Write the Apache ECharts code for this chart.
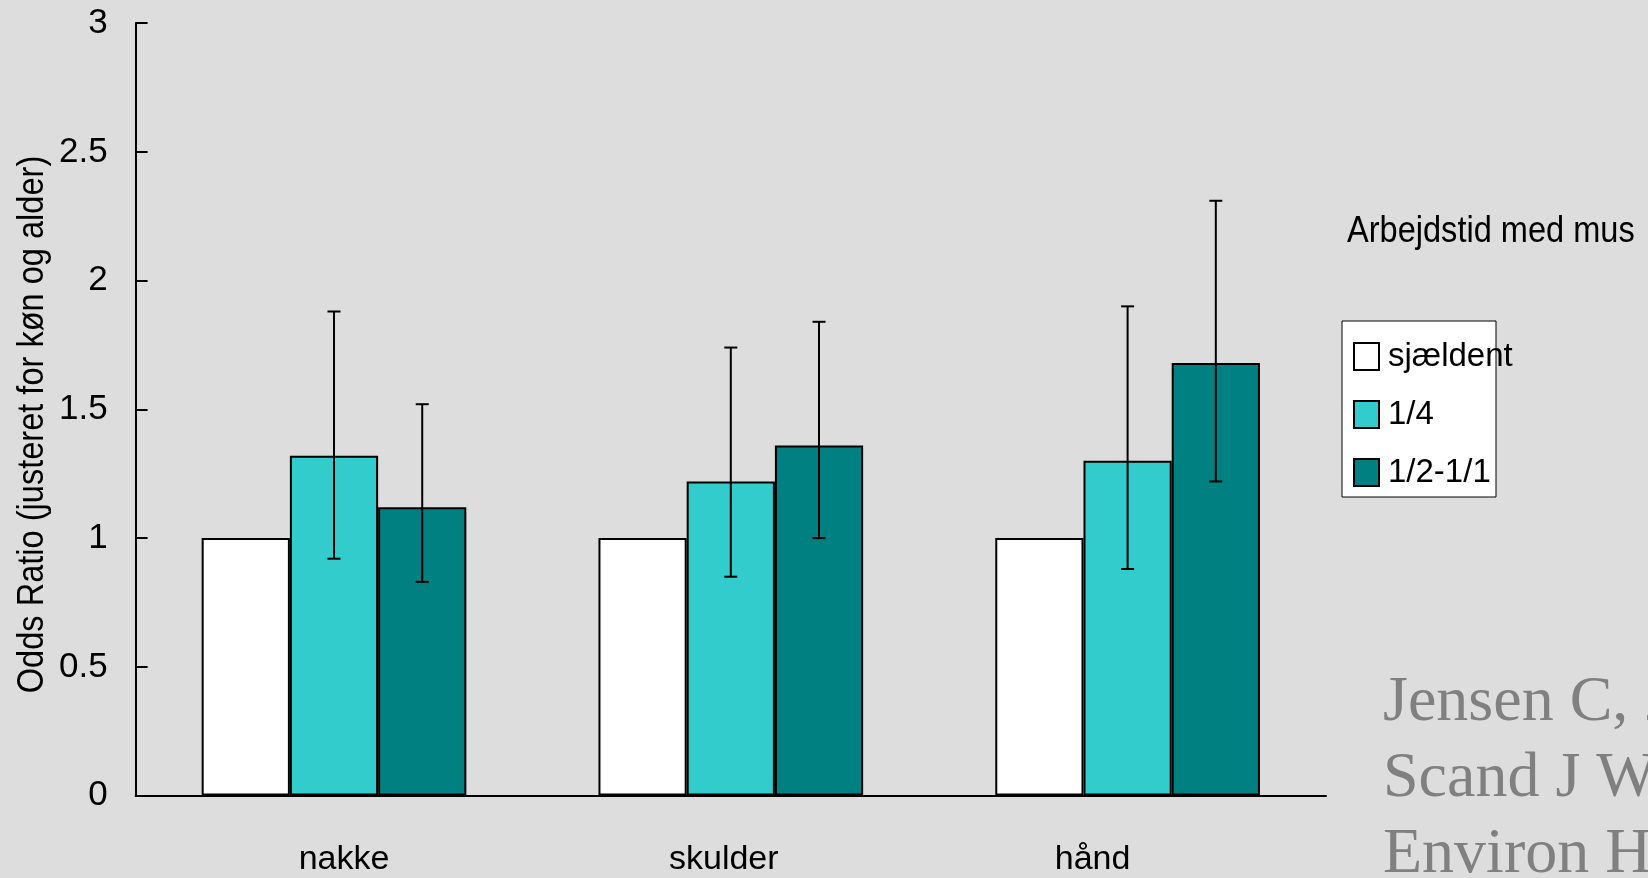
<!DOCTYPE html>
<html>
<head>
<meta charset="utf-8">
<script src="https://cdn.jsdelivr.net/npm/echarts@6/dist/echarts.min.js"></script>
<style>
html,body{margin:0;padding:0;background:#dddddd;}
#c{width:1648px;height:878px;}
</style>
</head>
<body>
<div id="c"></div>
<script>
var categories = ['nakke', 'skulder', 'hånd'];
var seriesNames = ['sjældent', '1/4', '1/2-1/1'];
var valSjaeldent = [1.0, 1.0, 1.0];
var valKvart = [1.32, 1.22, 1.30];
var valHalv = [1.12, 1.36, 1.68];
var ciKvartLow = [0.92, 0.85, 0.88];
var ciKvartHigh = [1.88, 1.74, 1.90];
var ciHalvLow = [0.83, 1.00, 1.22];
var ciHalvHigh = [1.52, 1.84, 2.31];
var yTicks = [0, 0.5, 1, 1.5, 2, 2.5, 3];
var yAxisTitle = 'Odds Ratio (justeret for køn og alder)';
var legendTitle = 'Arbejdstid med mus';
var citationLines = ['Jensen C, 2003', 'Scand J Work', 'Environ Health'];

var FONT = '"Liberation Sans", Arial, sans-serif';
var SERIF = '"Liberation Serif", "Times New Roman", serif';
var colors = ['#ffffff', '#33cccc', '#008080'];
var CAT_GAP = 0.333;
// horizontal shift of each category label (the original labels are not centred on the groups)
var labelPads = [[0, 0, 0, 20], [0, 14, 0, 0], [0, 70, 0, 0]];

function errData(low, high) {
  return categories.map(function (c, i) { return [i, low[i], high[i]]; });
}

function makeErr(seriesPos, low, high) {
  return {
    type: 'custom',
    z: 5,
    silent: true,
    data: errData(low, high),
    encode: { x: 0, y: [1, 2] },
    renderItem: function (params, api) {
      var ci = api.value(0);
      var lo = api.coord([ci, api.value(1)]);
      var hi = api.coord([ci, api.value(2)]);
      var band = api.size([1, 0])[0];
      var bw = band * (1 - CAT_GAP) / 3;
      var x = lo[0] + (seriesPos - 1) * bw;
      var cap = 6.5;
      var st = { stroke: '#000', lineWidth: 2 };
      return {
        type: 'group',
        children: [
          { type: 'line', shape: { x1: x, y1: hi[1], x2: x, y2: lo[1] }, style: st },
          { type: 'line', shape: { x1: x - cap, y1: hi[1], x2: x + cap, y2: hi[1] }, style: st },
          { type: 'line', shape: { x1: x - cap, y1: lo[1], x2: x + cap, y2: lo[1] }, style: st }
        ]
      };
    }
  };
}

var chart = echarts.init(document.getElementById('c'), null, { renderer: 'canvas' });
var option = {
  backgroundColor: '#dddddd',
  animation: false,
  textStyle: { fontFamily: FONT },
  grid: { left: 135.6, right: 322, top: 23.1, bottom: 82.4, containLabel: false },
  xAxis: {
    type: 'category',
    data: categories.map(function (c, i) {
      return { value: c, textStyle: { padding: labelPads[i] } };
    }),
    axisLine: { lineStyle: { color: '#000', width: 2 } },
    axisTick: { show: false },
    axisLabel: { color: '#000', fontSize: 34, fontFamily: FONT, margin: 47 },
    splitLine: { show: false }
  },
  yAxis: {
    type: 'value',
    min: yTicks[0],
    max: yTicks[yTicks.length - 1],
    interval: yTicks[1] - yTicks[0],
    axisLine: { show: true, lineStyle: { color: '#000', width: 2 } },
    axisTick: { show: true, inside: true, length: 12, lineStyle: { color: '#000', width: 2 } },
    axisLabel: { color: '#000', fontSize: 35, fontFamily: FONT, margin: 28 },
    splitLine: { show: false }
  },
  legend: {
    orient: 'vertical',
    left: 1353,
    top: 340,
    padding: 0,
    itemWidth: 25,
    itemHeight: 27,
    itemGap: 25,
    icon: 'rect',
    data: seriesNames,
    textStyle: { color: '#000', fontSize: 33, lineHeight: 27, fontFamily: FONT, padding: [0, 0, 0, 4] },
    z: 10
  },
  graphic: [
    { type: 'rect', z: 1, shape: { x: 1342, y: 321, width: 154, height: 176 },
      style: { fill: '#fff', stroke: '#000', lineWidth: 1 } },
    { type: 'text', z: 2, x: 1347, y: 232, scaleX: 0.88,
      style: { text: legendTitle, font: '37px ' + FONT, fill: '#000', verticalAlign: 'middle', textVerticalAlign: 'middle' } },
    { type: 'text', z: 2, x: 33, y: 424.5, rotation: Math.PI / 2, scaleX: 0.88,
      style: { text: yAxisTitle, font: '37px ' + FONT, fill: '#000', align: 'center', verticalAlign: 'middle', textAlign: 'center', textVerticalAlign: 'middle' } },
    { type: 'text', z: 2, x: 1383, y: 703, style: { text: citationLines[0], font: '64px ' + SERIF, fill: '#808080', verticalAlign: 'middle', textVerticalAlign: 'middle' } },
    { type: 'text', z: 2, x: 1383, y: 779, style: { text: citationLines[1], font: '64px ' + SERIF, fill: '#808080', verticalAlign: 'middle', textVerticalAlign: 'middle' } },
    { type: 'text', z: 2, x: 1383, y: 855, style: { text: citationLines[2], font: '64px ' + SERIF, fill: '#808080', verticalAlign: 'middle', textVerticalAlign: 'middle' } }
  ],
  series: [
    { name: seriesNames[0], type: 'bar', data: valSjaeldent, barGap: '0%', barCategoryGap: '33.3%',
      itemStyle: { color: colors[0], borderColor: '#000', borderWidth: 2 } },
    { name: seriesNames[1], type: 'bar', data: valKvart, barGap: '0%', barCategoryGap: '33.3%',
      itemStyle: { color: colors[1], borderColor: '#000', borderWidth: 2 } },
    { name: seriesNames[2], type: 'bar', data: valHalv, barGap: '0%', barCategoryGap: '33.3%',
      itemStyle: { color: colors[2], borderColor: '#000', borderWidth: 2 } },
    makeErr(1, ciKvartLow, ciKvartHigh),
    makeErr(2, ciHalvLow, ciHalvHigh)
  ]
};
chart.setOption(option);
</script>
</body>
</html>
